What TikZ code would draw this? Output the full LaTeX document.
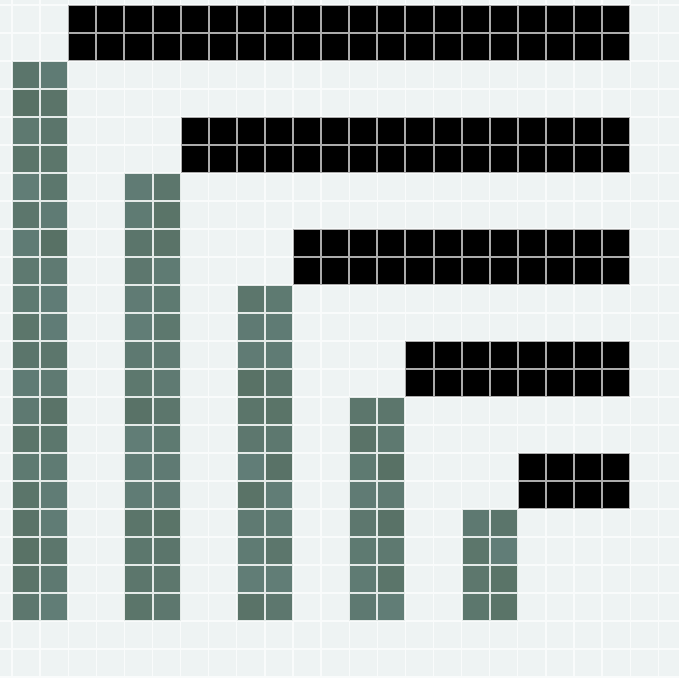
\documentclass[tikz,border=0pt]{standalone}
\definecolor{bg}{HTML}{EEF3F3}
\definecolor{gridc}{HTML}{F9FBFB}
\definecolor{tgA}{HTML}{566E60}
\definecolor{tgB}{HTML}{63807B}
\definecolor{greengap}{HTML}{E4EAE8}
\definecolor{blackgap}{HTML}{ABABAB}
\tikzset{
  gridline/.style={draw=gridc, line width=1.3pt},
}
\newcommand\tileblock[5]{% col, row, ncols, nrows, kind (0 black, 1 green)
  \ifnum#5=0
    \fill[blackgap] ({12+28.1*#1},{5+28*#2}) rectangle ({12+28.1*(#1+#3)},{5+28*(#2+#4)});
  \else
    \fill[greengap] ({12+28.1*#1},{5+28*#2}) rectangle ({12+28.1*(#1+#3)},{5+28*(#2+#4)});
  \fi
  \foreach \i in {1,...,#3}{
    \foreach \j in {1,...,#4}{
      \pgfmathsetmacro\cx{12+28.1*(#1+\i-1)}
      \pgfmathsetmacro\cy{5+28*(#2+\j-1)}
      \ifnum#5=0
        \fill[black] ({\cx+1},{\cy+1}) rectangle ({\cx+27.1},{\cy+27});
      \else
        \pgfmathsetmacro\v{int(15+rnd*70)}
        \fill[tgA!\v!tgB] ({\cx+1},{\cy+1}) rectangle ({\cx+27.1},{\cy+27});
      \fi
    }
  }
}
\begin{document}
\begin{tikzpicture}[x=1pt,y=-1pt]
\pgfmathsetseed{11}
\fill[bg] (0,0) rectangle (679,677);
\useasboundingbox (0,0) rectangle (679,677);
\foreach \k in {0,...,23} \draw[gridline] ({12+28.1*\k},0) -- ({12+28.1*\k},677);
\foreach \k in {0,...,24} \draw[gridline] (0,{5+28*\k}) -- (679,{5+28*\k});
% black bars
\tileblock{2}{0}{20}{2}{0}
\tileblock{6}{4}{16}{2}{0}
\tileblock{10}{8}{12}{2}{0}
\tileblock{14}{12}{8}{2}{0}
\tileblock{18}{16}{4}{2}{0}
% green columns
\tileblock{0}{2}{2}{20}{1}
\tileblock{4}{6}{2}{16}{1}
\tileblock{8}{10}{2}{12}{1}
\tileblock{12}{14}{2}{8}{1}
\tileblock{16}{18}{2}{4}{1}
\end{tikzpicture}
\end{document}
